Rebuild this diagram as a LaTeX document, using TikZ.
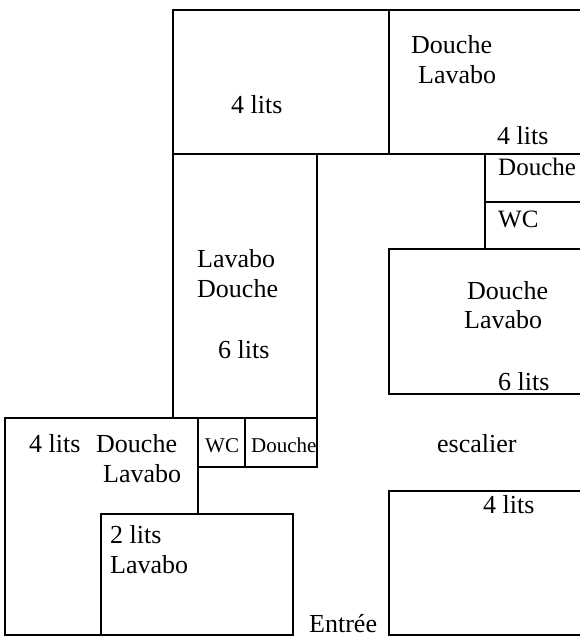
\documentclass[tikz,border=0pt]{standalone}
\usepackage{fontspec}
\setmainfont{Liberation Serif}
\begin{document}
\begin{tikzpicture}[x=1pt,y=-1pt,
  wall/.style={line width=1.9pt,line cap=rect},
  lbl/.style={anchor=base west,inner sep=0pt,font=\fontsize{26}{30}\selectfont},
  lblm/.style={anchor=base west,inner sep=0pt,font=\fontsize{25}{30}\selectfont},
  lbls/.style={anchor=base west,inner sep=0pt,font=\fontsize{21}{24}\selectfont}]
\useasboundingbox (0,0) rectangle (579,637);
% top block
\draw[wall] (579,10) -- (173,10) -- (173,154) -- (579,154);
\draw[wall] (389,10) -- (389,154);
% column
\draw[wall] (173,154) -- (173,418);
\draw[wall] (317,154) -- (317,467);
% right small rooms
\draw[wall] (485,154) -- (485,249);
\draw[wall] (485,202) -- (579,202);
\draw[wall] (579,249) -- (389,249) -- (389,394) -- (579,394);
% lower right
\draw[wall] (579,491) -- (389,491) -- (389,635) -- (579,635);
% left block
\draw[wall] (317,418) -- (5,418) -- (5,635) -- (293,635) -- (293,514) -- (101,514) -- (101,635);
\draw[wall] (198,418) -- (198,514);
\draw[wall] (198,467) -- (317,467);
\draw[wall] (245,418) -- (245,467);
% labels
\node[lbl] (t1) at (231,113) {4 lits};
\node[lbl] (t2) at (411,53) {Douche};
\node[lbl] (t3) at (418,83) {Lavabo};
\node[lbl] (t4) at (497,144) {4 lits};
\node[lblm] (t5) at (498,175) {Douche};
\node[lblm] (t6) at (498,227) {WC};
\node[lbl] (c1) at (197,267) {Lavabo};
\node[lbl] (c2) at (197,297) {Douche};
\node[lbl] (c3) at (218,358) {6 lits};
\node[lbl] (r1) at (467,299) {Douche};
\node[lbl] (r2) at (464,328) {Lavabo};
\node[lbl] (r3) at (498,390) {6 lits};
\node[lbl] (esc) at (437,452) {escalier};
\node[lbl] (r4) at (483,513) {4 lits};
\node[lbl] (ent) at (309,632) {Entrée};
\node[lbl] (l1) at (29,452) {4 lits};
\node[lbl] (l2) at (96,452) {Douche};
\node[lbl] (l3) at (103,482) {Lavabo};
\node[lbls] (w1) at (205,452) {WC};
\node[lbls] (w2) at (251,452) {Douche};
\node[lbl] (b1) at (110,543) {2 lits};
\node[lbl] (b2) at (110,573) {Lavabo};
\end{tikzpicture}
\end{document}
